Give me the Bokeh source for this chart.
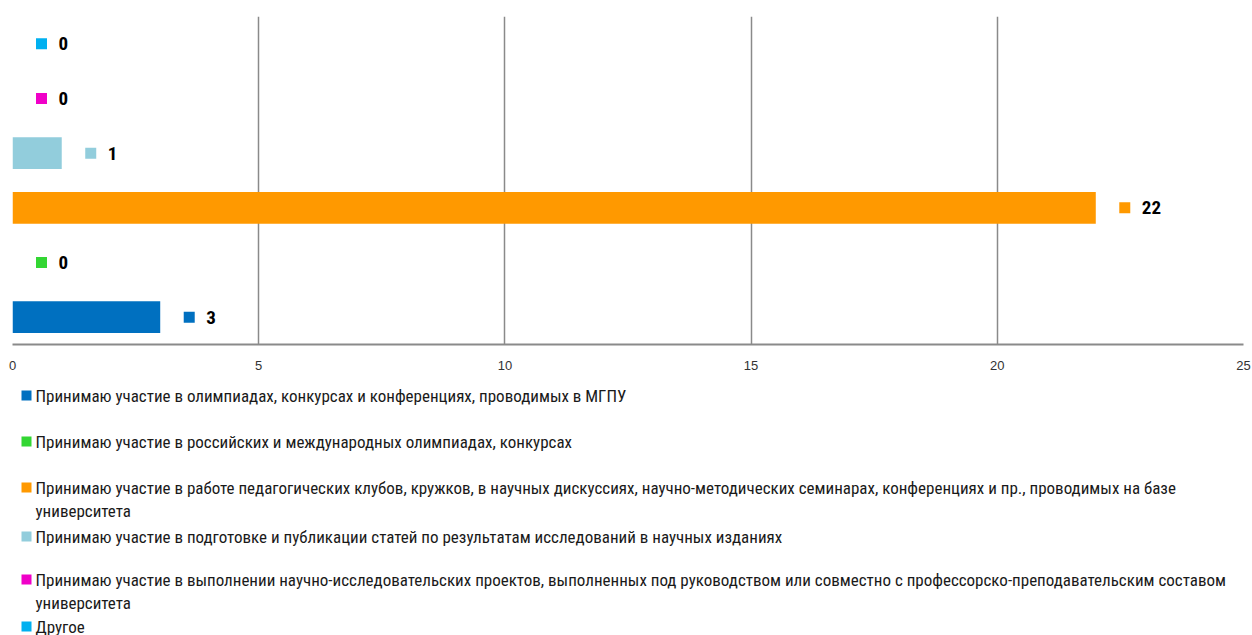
from bokeh.plotting import figure
from bokeh.models import Range1d, ColumnDataSource, FixedTicker
from bokeh.layouts import column
from bokeh.embed import file_html
from bokeh.resources import INLINE
from bokeh.core.properties import value

# ---------------- data ----------------
categories = [
    "Принимаю участие в олимпиадах, конкурсах и конференциях, проводимых в МГПУ",
    "Принимаю участие в российских и международных олимпиадах, конкурсах",
    "Принимаю участие в работе педагогических клубов, кружков, в научных дискуссиях, научно-методических семинарах, конференциях  и пр., проводимых на базе университета",
    "Принимаю участие в подготовке и публикации статей по результатам исследований в научных изданиях",
    "Принимаю участие в выполнении научно-исследовательских проектов, выполненных  под руководством или совместно с профессорско-преподавательским составом университета",
    "Другое",
]
legend_labels = [
    "Принимаю участие в олимпиадах, конкурсах и конференциях, проводимых в МГПУ",
    "Принимаю участие в российских и международных олимпиадах, конкурсах",
    "Принимаю участие в работе педагогических клубов, кружков, в научных дискуссиях, научно-методических семинарах, конференциях  и пр., проводимых на базе\nуниверситета",
    "Принимаю участие в подготовке и публикации статей по результатам исследований в научных изданиях",
    "Принимаю участие в выполнении научно-исследовательских проектов, выполненных  под руководством или совместно с профессорско-преподавательским составом\nуниверситета",
    "Другое",
]
values = [3, 0, 22, 1, 0, 0]
colors = ["#0070C0", "#33D633", "#FF9900", "#92CDDC", "#F000C8", "#00B0F0"]
x_ticks = [0, 5, 10, 15, 20, 25]

# ---------------- layout constants ----------------
W = 1252
H1 = 380
H2 = 255
LEFT, RIGHT, TOP, BOTTOM = 12, 9, 16, 36
FRAME_W = W - LEFT - RIGHT
X_MAX = 25
PX = FRAME_W / X_MAX
NARROW = "Roboto Condensed, DejaVu Sans Condensed, Liberation Sans"
GRID = "#8a8a8a"

p = figure(width=W, height=H1, x_range=Range1d(0, X_MAX),
           y_range=Range1d(-0.5, len(values) - 0.5),
           output_backend="svg", toolbar_location=None, y_axis_location=None,
           min_border_left=LEFT, min_border_right=RIGHT, min_border_top=TOP,
           min_border_bottom=BOTTOM)
p.outline_line_color = None
p.background_fill_color = "white"

ys = list(range(len(values)))
src = ColumnDataSource(dict(
    y=ys, v=values, c=colors,
    mx=[v + 29 / PX for v in values],
    lbl=[str(v) for v in values],
))
p.hbar(y="y", left=0, right="v", height=0.58, fill_color="c", line_color=None, source=src)
p.rect(x="mx", y="y", width=11, height=11, width_units="screen", height_units="screen",
       fill_color="c", line_color=None, source=src)
p.text(x="v", y="y", text="lbl", x_offset=46, text_baseline="middle", text_align="left",
       text_font=value(NARROW), text_font_style="bold", text_font_size="19px",
       text_color="#000000", source=src)

p.xgrid.ticker = FixedTicker(ticks=x_ticks)
p.xgrid.grid_line_color = GRID
p.xgrid.grid_line_width = 1.5
p.ygrid.visible = False

ax = p.xaxis[0]
ax.ticker = FixedTicker(ticks=x_ticks)
ax.axis_line_color = GRID
ax.axis_line_width = 2
ax.major_tick_line_color = None
ax.minor_tick_line_color = None
ax.major_tick_out = 0
ax.major_tick_in = 0
ax.major_label_standoff = 16
ax.major_label_text_font = "Liberation Sans"
ax.major_label_text_font_size = "13px"
ax.major_label_text_color = "#333333"

# ---------------- legend (page-pixel coordinates) ----------------
leg = figure(width=W, height=H2, x_range=Range1d(LEFT, W - RIGHT),
             y_range=Range1d(H1 + H2, H1),
             output_backend="svg", toolbar_location=None,
             x_axis_location=None, y_axis_location=None,
             min_border_left=LEFT, min_border_right=RIGHT,
             min_border_top=0, min_border_bottom=0)
leg.outline_line_color = None
leg.grid.visible = False

row_centers = [395, 441, 487, 536, 579, 626]
LINE_H = 23
SQ_X = 26
TXT_X = 35

sq = ColumnDataSource(dict(x=[SQ_X] * len(colors), y=row_centers, c=colors))
leg.rect(x="x", y="y", width=10, height=10, fill_color="c", line_color=None, source=sq)

tx, ty, tt = [], [], []
for i, lbl in enumerate(legend_labels):
    for k, line in enumerate(lbl.split("\n")):
        tx.append(TXT_X)
        ty.append(row_centers[i] + k * LINE_H)
        tt.append(line)
leg.text(x=tx, y=ty, text=tt, text_baseline="middle", text_align="left",
         text_font=value(NARROW), text_font_size="17px", text_color="#1a1a1a")

layout = column(p, leg, spacing=0)
open("out.html", "w").write(file_html(layout, INLINE))
